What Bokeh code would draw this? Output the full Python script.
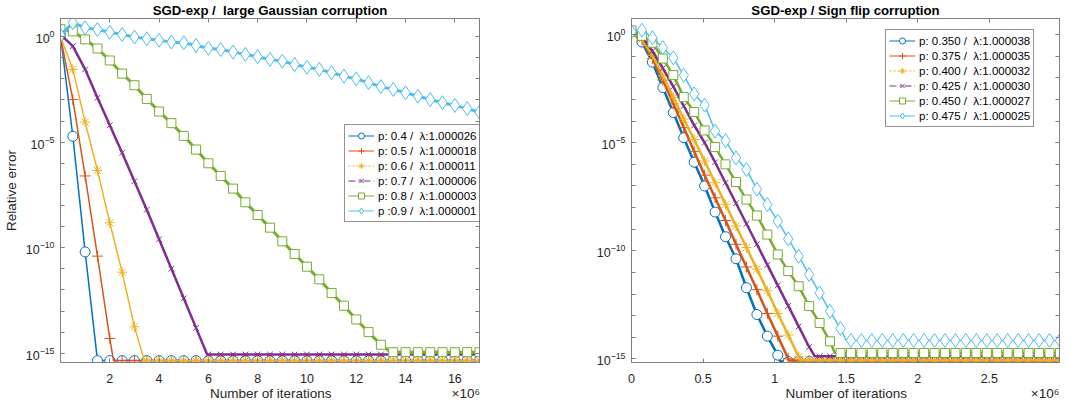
import numpy as np
from bokeh.plotting import figure
from bokeh.models import (Range1d, FixedTicker, LinearAxis, Legend,
                          LegendItem, CustomJSTickFormatter)
from bokeh.layouts import row
from bokeh.embed import file_html
from bokeh.resources import INLINE

NB = "\u00a0"

# ---------------- data (log10 of relative error, read at marker positions) -------------
left_iters_millions = [0, 0.5, 1, 1.5, 2, 2.5, 3, 3.5, 4, 4.5, 5, 5.5, 6, 6.5, 7, 7.5, 8,
                       8.5, 9, 9.5, 10, 10.5, 11, 11.5, 12, 12.5, 13, 13.5, 14, 14.5, 15,
                       15.5, 16, 16.5, 17]
left_labels = ["p: 0.4 / " + NB + "\u03bb:1.000026", "p: 0.5 / " + NB + "\u03bb:1.000018",
               "p: 0.6 / " + NB + "\u03bb:1.000011", "p: 0.7 / " + NB + "\u03bb:1.000006",
               "p: 0.8 / " + NB + "\u03bb:1.000003", "p :0.9 / " + NB + "\u03bb:1.000001"]
left_p04 = [0.07, -4.72, -10.2] + [-15.35] * 32
left_p05 = [0.0, -2.98, -6.6, -10.4, -14.3] + [-15.35] * 30
left_p06 = [0.0, -1.55, -4.05, -6.34, -8.82, -11.16, -13.75] + [-15.35] * 28
left_p07 = [0.1, -0.45, -1.55, -2.9, -4.2, -5.5, -6.85, -8.2, -9.6, -11.0, -12.4,
            -13.8] + [-15.06] * 23
left_p08 = [0.35, 0.25, -0.13, -0.56, -1.13, -1.75, -2.3, -2.95, -3.55, -4.1, -4.7,
            -5.35, -6.0, -6.6, -7.2, -7.85, -8.45, -9.05, -9.7, -10.3, -10.9, -11.5,
            -12.15, -12.75, -13.4, -14.0, -14.6] + [-14.95] * 8
left_p09 = [0.07, 0.66, 0.42, 0.34, 0.21, 0.10, -0.02, -0.10, -0.17, -0.26, -0.29,
            -0.42, -0.55, -0.61, -0.73, -0.84, -0.95, -1.08, -1.16, -1.32, -1.45, -1.55,
            -1.71, -1.87, -2.0, -2.18, -2.37, -2.5, -2.66, -2.82, -2.98, -3.13, -3.26,
            -3.41, -3.58]
left_knees = [None, 2.15, 3.4, 5.95, 13.4, None]   # where each curve reaches its floor

right_iters_millions = [0, 0.073, 0.146, 0.219, 0.292, 0.365, 0.438, 0.511, 0.584, 0.657,
                        0.730, 0.803, 0.876, 0.949, 1.022, 1.095, 1.168, 1.241, 1.314,
                        1.387, 1.460, 1.533, 1.606, 1.679, 1.752, 1.825, 1.898, 1.971,
                        2.044, 2.117, 2.190, 2.263, 2.336, 2.409, 2.482, 2.555, 2.628,
                        2.701, 2.774, 2.847, 2.920, 2.993]
right_labels = ["p: 0.350 / " + NB + "\u03bb:1.000038", "p: 0.375 / " + NB + "\u03bb:1.000035",
                "p: 0.400 / " + NB + "\u03bb:1.000032", "p: 0.425 / " + NB + "\u03bb:1.000030",
                "p: 0.450 / " + NB + "\u03bb:1.000027", "p: 0.475 / " + NB + "\u03bb:1.000025"]
right_p350 = [0.14, -0.34, -1.27, -2.45, -3.6, -4.77, -5.9, -7.0, -8.21, -9.35, -10.37,
              -11.71, -12.95, -13.95, -14.83] + [-15.12] * 27
right_p375 = [0.1, -0.25, -1.1, -2.1, -3.2, -4.3, -5.4, -6.5, -7.55, -8.6, -9.7, -10.75,
              -11.8, -12.9, -13.95, -15.0] + [-15.08] * 26
right_p400 = [0.1, -0.2, -0.95, -1.9, -2.9, -3.9, -4.85, -5.85, -6.85, -7.85, -8.85,
              -9.85, -10.85, -11.85, -12.9, -13.9, -14.9] + [-15.05] * 25
right_p425 = [0.15, -0.1, -0.75, -1.55, -2.4, -3.3, -4.2, -5.0, -5.9, -6.85, -7.8, -8.75,
              -9.7, -10.65, -11.6, -12.55, -13.5, -14.45] + [-14.88] * 24
right_p450 = [0.2, -0.05, -0.37, -1.1, -1.87, -2.89, -3.58, -4.43, -5.2, -6.0, -6.82,
              -7.63, -8.37, -9.25, -10.17, -10.94, -11.64, -12.56, -13.34,
              -14.19] + [-14.73] * 22
right_p475 = [0.14, 0.21, -0.14, -0.6, -1.07, -1.88, -2.74, -3.26, -4.46, -4.9, -5.7,
              -6.24, -7.15, -7.86, -8.63, -9.45, -10.25, -11.1, -11.95, -12.8,
              -13.6] + [-14.15] * 21
right_knees = [1.04, 1.1, 1.18, 1.28, 1.42, 1.5]

left_xticks = [2, 4, 6, 8, 10, 12, 14, 16]
right_xticks = [0, 0.5, 1, 1.5, 2, 2.5]
y_major = [1e-15, 1e-10, 1e-5, 1]
y_minor = [10.0 ** k for k in range(-16, 2)]

# ---------------- styles ---------------------------------------------------------------
COLORS = ["#0072BD", "#D95319", "#EDB120", "#7E2F8E", "#77AC30", "#4DBEEE"]
MARKERS = ["circle", "cross", "asterisk", "x", "square", "diamond"]
MSIZE = [10, 11, 10, 8, 9, 14]
DASH = ["solid", "solid", "2 2", "7 3 2 3", "solid", "solid"]
FONT = "Liberation Sans"
AXC = "#7f7f7f"
TXT = "#262626"


def line_vertices(xs, logs, knee):
    pts = list(zip(xs, logs))
    if knee is not None:
        pts.append((knee, logs[-1]))
        pts.sort(key=lambda t: t[0])
    vx = [p[0] for p in pts]
    vy = [10.0 ** p[1] for p in pts]
    return vx, vy


def make_panel(title, xs, series, knees, labels, xticks, xr, yr, fw, mb_left, mb_right,
               widths, legend_loc, ylabel, pads):
    p = figure(frame_width=fw, frame_height=344, y_axis_type="log",
               x_range=Range1d(*xr), y_range=Range1d(10 ** yr[0], 10 ** yr[1]),
               output_backend="svg", toolbar_location=None,
               min_border_left=mb_left, min_border_right=mb_right,
               min_border_top=18, min_border_bottom=38, background_fill_color="white")
    p.xgrid.visible = False
    p.ygrid.visible = False
    p.outline_line_color = AXC
    p.outline_line_width = 1
    p.title.text = title
    p.title.align = "center"
    p.title.text_font = FONT
    p.title.text_font_size = "13.2px"
    p.title.text_font_style = "bold"
    p.title.text_color = "black"
    p.title.standoff = 1

    items = []
    for i, logs in enumerate(series):
        vx, vy = line_vertices(xs, logs, knees[i])
        p.line(vx, vy, line_color=COLORS[i], line_width=widths[i])
        p.scatter(xs, [10.0 ** v for v in logs], marker=MARKERS[i], size=MSIZE[i],
                  line_color=COLORS[i], line_width=1, fill_color="white")
    # legend-only proxies (placed outside the visible range so nothing shows)
    for i in range(len(series)):
        pl = p.line([-10, -9], [1e3, 1e3], line_color=COLORS[i], line_width=1,
                    line_dash=DASH[i])
        ps = p.scatter([-10], [1e3], marker=MARKERS[i], size=MSIZE[i] - 1,
                       line_color=COLORS[i], line_width=1, fill_color="white")
        items.append(LegendItem(label=labels[i], renderers=[pl, ps]))

    xt = FixedTicker(ticks=xticks)
    yt = FixedTicker(ticks=y_major, minor_ticks=y_minor)

    xa = p.xaxis[0]
    xa.ticker = xt
    xa.formatter = CustomJSTickFormatter(code="return tick.toString();")
    # axis label centred on the frame, with the x10^6 multiplier pushed to the right end
    xa.axis_label = NB * pads[0] + "Number of iterations" + NB * pads[1] + "\u00d710\u2076"
    xa.axis_label_standoff = 0
    xa.major_label_standoff = 11
    ya = p.yaxis[0]
    ya.ticker = yt
    ya.major_label_standoff = 6
    if ylabel:
        ya.axis_label = ylabel
        ya.axis_label_standoff = 4
    for ax in (xa, ya):
        ax.major_tick_in = 4
        ax.major_tick_out = 0
        ax.minor_tick_in = 4
        ax.minor_tick_out = 0
        ax.axis_line_color = AXC
        ax.major_tick_line_color = AXC
        ax.minor_tick_line_color = AXC
        ax.major_label_text_font = FONT
        ax.major_label_text_font_size = "12.5px"
        ax.major_label_text_color = TXT
        ax.axis_label_text_font = FONT
        ax.axis_label_text_font_size = "13.5px"
        ax.axis_label_text_font_style = "normal"
        ax.axis_label_text_color = TXT

    top = LinearAxis(ticker=xt, formatter=CustomJSTickFormatter(code="return '';"),
                     major_label_standoff=0,
                     major_tick_in=4, major_tick_out=0, axis_line_color=AXC,
                     major_tick_line_color=AXC, minor_tick_line_color=None)
    right = LinearAxis(ticker=yt, formatter=CustomJSTickFormatter(code="return '';"),
                       major_label_standoff=0,
                       major_tick_in=4, major_tick_out=0, minor_tick_in=4,
                       minor_tick_out=0, axis_line_color=AXC,
                       major_tick_line_color=AXC, minor_tick_line_color=AXC)
    p.add_layout(top, "above")
    p.add_layout(right, "right")

    legend = Legend(items=items, location=legend_loc, glyph_width=26, glyph_height=15,
                    label_height=15, spacing=0, padding=3, margin=0, label_standoff=4,
                    label_text_font=FONT, label_text_font_size="11.5px",
                    label_text_color="black", border_line_color=TXT,
                    border_line_width=1, background_fill_alpha=1.0)
    p.add_layout(legend)
    return p


p1 = make_panel("SGD-exp /" + NB + " large Gaussian corruption", left_iters_millions,
                [left_p04, left_p05, left_p06, left_p07, left_p08, left_p09],
                left_knees, left_labels, left_xticks, (0, 17), (-15.44, 0.86),
                419, 59, 58, [1.5, 1.5, 1.5, 2.5, 3, 3], (284, 140), "Relative error",
                (40, 32))
p2 = make_panel("SGD-exp / Sign flip corruption", right_iters_millions,
                [right_p350, right_p375, right_p400, right_p425, right_p450, right_p475],
                right_knees, right_labels, right_xticks, (0, 2.99), (-15.17, 0.75),
                428, 94, 5, [2.5, 2.5, 2.5, 2.5, 2.5, 1.5], (254, 235), None,
                (41, 33))

layout = row(p1, p2)
open("out.html", "w").write(file_html(layout, INLINE))
